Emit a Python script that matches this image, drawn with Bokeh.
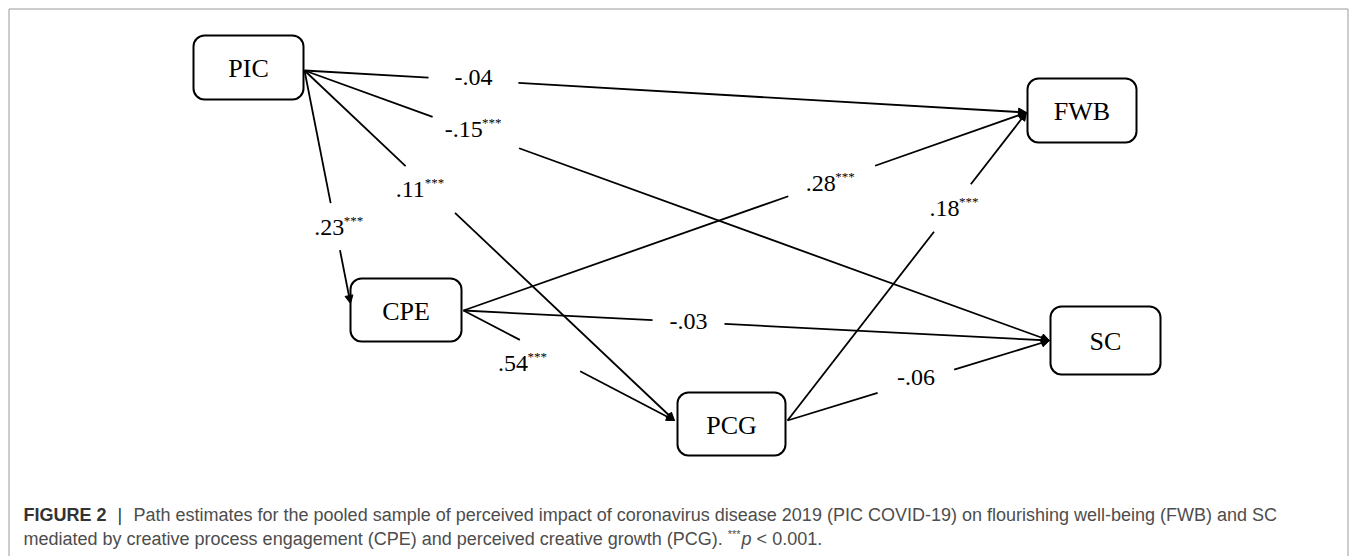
import math
from bokeh.plotting import figure
from bokeh.models import Range1d, ColumnDataSource, Arrow, NormalHead
from bokeh.core.properties import value
from bokeh.embed import file_html
from bokeh.resources import INLINE

# ---- data ----
nodes = ["PIC", "FWB", "CPE", "SC", "PCG"]
edge_from = ["PIC", "PIC", "PIC", "PIC", "CPE", "CPE", "CPE", "PCG", "PCG"]
edge_to = ["FWB", "SC", "PCG", "CPE", "FWB", "SC", "PCG", "FWB", "SC"]
coef = ["-.04", "-.15", ".11", ".23", ".28", "-.03", ".54", ".18", "-.06"]
sig = ["", "***", "***", "***", "***", "", "***", "***", ""]
caption_bold = "FIGURE 2"
caption_line1 = ("Path estimates for the pooled sample of perceived impact of coronavirus disease "
                 "2019 (PIC COVID-19) on flourishing well-being (FWB) and SC")
caption_line2 = "mediated by creative process engagement (CPE) and perceived creative growth (PCG)."
caption_stars = "***"
caption_p = "p"
caption_tail = "< 0.001."

# ---- layout (page pixels) ----
box = {  # left, right, top, bottom
    "PIC": (193, 303, 35, 99),
    "FWB": (1027, 1136, 78, 142),
    "CPE": (350, 461, 278, 341),
    "SC": (1050, 1160, 306, 374),
    "PCG": (677, 785, 392, 455),
}
out_port = {"PIC": (304, 70), "CPE": (463, 310), "PCG": (787, 420)}
in_port = {"FWB": (1026, 112), "SC": (1049, 340), "PCG": (674, 420), "CPE": (350, 303)}
label_t = [0.234, 0.23, 0.34, 0.67, 0.654, 0.384, 0.41, 0.69, 0.49]
gap_half = [45, 46, 34, 24, 46, 36, 34, 30, 40]
label_off = [(0, -3), (0, -3), (-8, 0), (6, 1), (1, 2), (0, -1), (-25, 8), (4, 1), (0, -4)]

p = figure(width=1356, height=556, x_range=Range1d(0, 1356), y_range=Range1d(556, 0),
           output_backend="svg", toolbar_location=None, min_border=0)
p.axis.visible = False
p.xgrid.visible = False
p.ygrid.visible = False
p.outline_line_color = None
p.background_fill_color = "white"
p.border_fill_color = "white"

# frame (left, top, right)
p.segment(x0=[8.5, 8.5, 1347.5], y0=[556, 8.5, 8.5], x1=[8.5, 1347.5, 1347.5], y1=[8.5, 8.5, 556],
          line_color="#9a9a9a", line_width=1)

# edges
s0x, s0y, s1x, s1y = [], [], [], []
a0x, a0y, a1x, a1y = [], [], [], []
lx, ly = [], []
for i, (f, t) in enumerate(zip(edge_from, edge_to)):
    x0, y0 = out_port[f]
    x1, y1 = in_port[t]
    L = math.hypot(x1 - x0, y1 - y0)
    ux, uy = (x1 - x0) / L, (y1 - y0) / L
    cx, cy = x0 + label_t[i] * (x1 - x0), y0 + label_t[i] * (y1 - y0)
    g = gap_half[i]
    s0x.append(x0); s0y.append(y0); s1x.append(cx - ux * g); s1y.append(cy - uy * g)
    a0x.append(cx + ux * g); a0y.append(cy + uy * g); a1x.append(x1); a1y.append(y1)
    lx.append(cx + label_off[i][0]); ly.append(cy + label_off[i][1])

p.segment(x0=s0x, y0=s0y, x1=s1x, y1=s1y, line_color="black", line_width=1.8)
asrc = ColumnDataSource(dict(x0=a0x, y0=a0y, x1=a1x, y1=a1y))
p.add_layout(Arrow(source=asrc, x_start="x0", y_start="y0", x_end="x1", y_end="y1",
                   line_color="black", line_width=1.8,
                   end=NormalHead(size=8, fill_color="black", line_color="black", line_width=1)))

# edge labels
def tw(s, fs):
    w = {"-": 0.333, ".": 0.25}
    return sum(w.get(c, 0.5) for c in s) * fs

LFS = 24
num_x, num_y, num_t, st_x, st_y, st_t = [], [], [], [], [], []
for i in range(len(coef)):
    wn = tw(coef[i], LFS) * 0.9
    ws = 24 if sig[i] else 0
    left = lx[i] - (wn + ws) / 2
    num_x.append(left + wn / 2); num_y.append(ly[i]); num_t.append(coef[i])
    if sig[i]:
        st_x.append(left + wn + 1); st_y.append(ly[i] - 7); st_t.append(sig[i])
p.text(x=num_x, y=num_y, text=num_t, text_font=value("Liberation Serif"),
       text_font_size=f"{LFS}px", text_align="center", text_baseline="middle", text_color="black")
p.text(x=st_x, y=st_y, text=st_t, text_font=value("Liberation Serif"),
       text_font_size="13px", text_align="left", text_baseline="middle", text_color="black")

# boxes
bl = [box[n][0] for n in nodes]; br = [box[n][1] for n in nodes]
bt = [box[n][2] for n in nodes]; bb = [box[n][3] for n in nodes]
p.quad(left=bl, right=br, top=bt, bottom=bb, fill_color="white", line_color="black",
       line_width=2, border_radius=11)
p.text(x=[(a + b) / 2 for a, b in zip(bl, br)], y=[(a + b) / 2 + 1 for a, b in zip(bt, bb)],
       text=nodes, text_font=value("Liberation Serif"), text_font_size="26px",
       text_align="center", text_baseline="middle", text_color="black")

# caption
CF = value("Liberation Sans")
CFS = 18
main_w = 38.848 * CFS  # Arial metrics width of caption_line2
x_star = 23 + main_w + 0.278 * CFS
x_p = x_star + 3 * 0.389 * 11 + 1
x_tail = x_p + 0.556 * CFS + 0.278 * CFS
p.text(x=[23], y=[514], text=[caption_bold], text_font=CF, text_font_size=f"{CFS}px",
       text_font_style="bold", text_baseline="middle", text_color="#333333")
p.text(x=[117], y=[514], text=["|"], text_font=CF, text_font_size=f"{CFS}px",
       text_baseline="middle", text_color="#333333")
p.text(x=[133, 23], y=[514, 538], text=[caption_line1, caption_line2],
       text_font=CF, text_font_size=f"{CFS}px", text_baseline="middle", text_color="#4d4d4d")
p.text(x=[x_star], y=[533], text=[caption_stars], text_font=CF, text_font_size="11px",
       text_baseline="middle", text_color="#4d4d4d")
p.text(x=[x_p], y=[538], text=[caption_p], text_font=CF, text_font_size=f"{CFS}px",
       text_font_style="italic", text_baseline="middle", text_color="#4d4d4d")
p.text(x=[x_tail], y=[538], text=[caption_tail], text_font=CF, text_font_size=f"{CFS}px",
       text_baseline="middle", text_color="#4d4d4d")

open("out.html", "w").write(file_html(p, INLINE))
